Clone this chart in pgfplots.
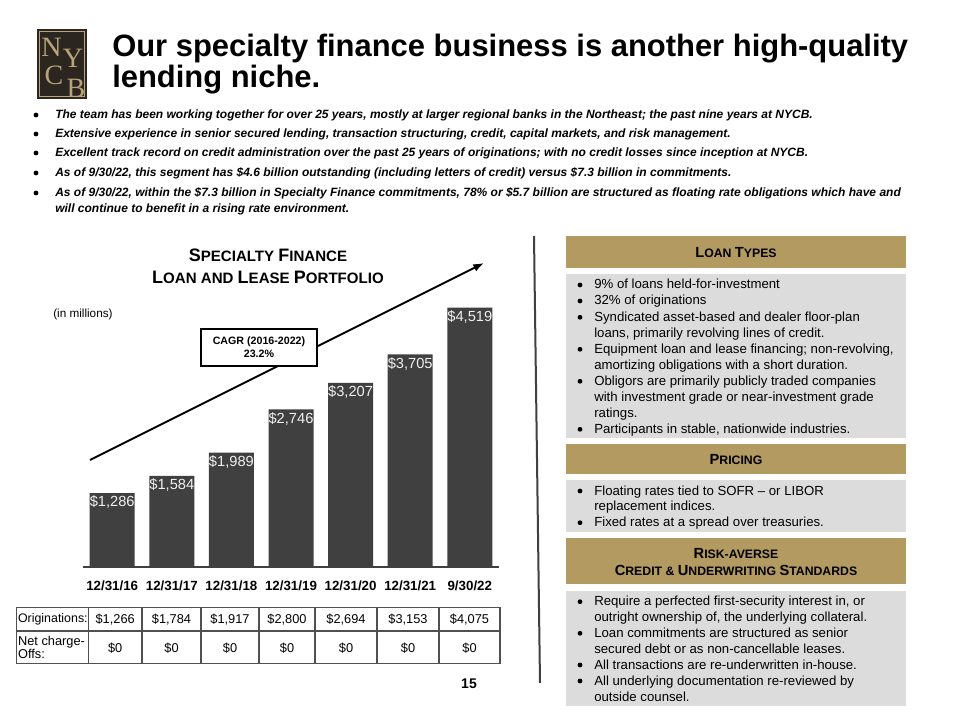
\documentclass[border=0pt]{standalone}
\usepackage{pgfplots}
\pgfplotsset{compat=1.18}
\usepackage{fontspec}
\setmainfont{Liberation Sans}
\newfontfamily\seriffont{Liberation Serif}
\usetikzlibrary{arrows.meta}
\definecolor{gold}{HTML}{B39A61}
\definecolor{logogold}{HTML}{B8A478}
\definecolor{panelgray}{HTML}{DCDCDC}
\definecolor{bardark}{HTML}{404040}
\definecolor{logobrown}{HTML}{2B2620}
\definecolor{tabline}{HTML}{505050}
\newcommand{\fs}[2]{\fontsize{#1}{#2}\selectfont}
\def\BCsize{13.5}
\newcommand{\BC}[1]{{\fontsize{\BCsize}{\BCsize}\selectfont #1}}
\newcommand{\tl}[3]{\node[anchor=base west, inner sep=0] at (#1,#2) {#3};}
\newcommand{\bd}[2]{\fill (#1,#2) circle[radius=1.8pt];}
\begin{document}
\begin{tikzpicture}[x=0.75pt, y=-0.75pt]
\fill[white] (0,0) rectangle (960,720);
% logo
\fill[logobrown] (37,29) rectangle (87,99);
\draw[logogold, line width=0.9pt] (39.5,31.5) rectangle (84.5,96.5);
\begin{scope}[every node/.style={inner sep=0, text=logogold, font=\seriffont\fs{21}{21}}]
\node at (51.5,47) {N};
\node at (73,58) {Y};
\node at (54,75) {C};
\node at (76,88.5) {B};
\end{scope}
% title
\node[anchor=base west, inner sep=0, font=\bfseries\fs{23.2}{24}] at (112,57) {Our specialty finance business is another high-quality};
\node[anchor=base west, inner sep=0, font=\bfseries\fs{23.2}{24}] at (112,88) {lending niche.};
% top bullets
\begin{scope}[font=\bfseries\itshape\fs{9}{10}]
\bd{36}{115}\tl{55}{119}{The team has been working together for over 25 years, mostly at larger regional banks in the Northeast; the past nine years at NYCB.}
\bd{36}{134}\tl{55}{138}{Extensive experience in senior secured lending, transaction structuring, credit, capital markets, and risk management.}
\bd{36}{153}\tl{55}{157}{Excellent track record on credit administration over the past 25 years of originations; with no credit losses since inception at NYCB.}
\bd{36}{173}\tl{55}{177}{As of 9/30/22, this segment has \$4.6 billion outstanding (including letters of credit) versus \$7.3 billion in commitments.}
\bd{36}{193}\tl{55}{197}{As of 9/30/22, within the \$7.3 billion in Specialty Finance commitments, 78\% or \$5.7 billion are structured as floating rate obligations which have and}
\tl{55}{213}{will continue to benefit in a rising rate environment.}
\end{scope}
% chart title
\node[inner sep=0, font=\bfseries\fs{11.3}{13}] at (268,255) {\BC{S}PECIALTY \BC{F}INANCE};
\node[inner sep=0, font=\bfseries\fs{11.3}{13}] at (268,277) {\BC{L}OAN AND \BC{L}EASE \BC{P}ORTFOLIO};
\node[anchor=west, inner sep=0, font=\fs{8.8}{10}] at (53,314) {(in millions)};
% arrow
\draw[line width=1.5pt, -{Latex[length=8pt,width=6pt]}] (90,460) -- (484,263);
\node[draw, line width=1.2pt, fill=white, minimum width=87pt, minimum height=27.75pt, align=center, inner sep=0, font=\bfseries\fs{8}{10}] at (259,347.5) {CAGR (2016-2022)\\23.2\%};
% bars
\begin{axis}[at={(62.25pt,-425.025pt)}, anchor=south west, scale only axis,
  width=312pt, height=214.9pt, xmin=-0.49, xmax=6.49, ymin=0, ymax=5000,
  axis y line=none, axis x line=bottom,
  x axis line style={draw=bardark, line width=1.5pt, -},
  xtick={0,...,6}, xticklabels={12/31/16,12/31/17,12/31/18,12/31/19,12/31/20,12/31/21,9/30/22},
  major tick length=0pt,
  xticklabel style={font=\bfseries\fs{10}{12}, yshift=-7pt},
  ybar, bar width=33.75pt, clip=false,
  nodes near coords={\$\pgfmathprintnumber[fixed,precision=0,1000 sep={,},assume math mode=true]{\pgfplotspointmeta}},
  every node near coord/.append style={anchor=center, yshift=-7pt, text=white!94!black, font=\fs{11}{12}, inner sep=0},
]
\addplot[fill=bardark, draw=none] coordinates {(0,1286) (1,1584) (2,1989) (3,2746) (4,3207) (5,3705) (6,4519)};
\end{axis}
% table
\begin{scope}[draw=tabline, line width=0.9pt]
\draw (16.7,607.7) rectangle (500,663.7);
\draw (16.7,631) -- (500,631);
\foreach \x in {88.5,142,201,259,315,377,439} \draw (\x,607.7) -- (\x,663.7);
\end{scope}
\begin{scope}[every node/.style={inner sep=0, font=\fs{9.6}{11}}]
\node[anchor=west, font=\fs{9.3}{11}] at (17.8,619.5) {Originations:};
\node[anchor=west, align=left, font=\fs{9.6}{9.75}] at (17.8,647.5) {Net charge-\\Offs:};
\foreach \x/\v in {115.2/1{,}266,171.5/1{,}784,230/1{,}917,287/2{,}800,346/2{,}694,408/3{,}153,469.5/4{,}075} {
  \node at (\x,619.5) {\$\v};
  \node at (\x,648) {\$0};
}
\end{scope}
\node[inner sep=0, font=\bfseries\fs{10.5}{12}] at (469,684) {15};
% divider
\draw[bardark, line width=1.5pt] (534,236) -- (540,683);
% right panels
\fill[gold] (566,235.7) rectangle (906,268);
\fill[panelgray] (566,274) rectangle (906,438);
\fill[gold] (566,444) rectangle (906,474);
\fill[panelgray] (566,480) rectangle (906,532);
\fill[gold] (566,538) rectangle (906,584);
\fill[panelgray] (566,591) rectangle (906,706);
\def\BCsize{11}
\node[inner sep=0, font=\bfseries\fs{9.2}{11}] at (736,252.5) {\BC{L}OAN \BC{T}YPES};
\node[inner sep=0, font=\bfseries\fs{9.2}{11}] at (736,459.5) {\BC{P}RICING};
\node[inner sep=0, font=\bfseries\fs{9.2}{11}] at (736,553.5) {\BC{R}ISK-AVERSE};
\node[inner sep=0, font=\bfseries\fs{9.2}{11}] at (736,570) {\BC{C}REDIT \& \BC{U}NDERWRITING \BC{S}TANDARDS};
\begin{scope}[font=\fs{9.9}{12}]
\bd{580}{285}\tl{594}{288.7}{9\% of loans held-for-investment}
\bd{580}{301}\tl{594}{305}{32\% of originations}
\bd{580}{317.3}\tl{594}{321.3}{Syndicated asset-based and dealer floor-plan}
\tl{594}{337.3}{loans, primarily revolving lines of credit.}
\bd{580}{349.3}\tl{594}{353.3}{Equipment loan and lease financing; non-revolving,}
\tl{594}{369.3}{amortizing obligations with a short duration.}
\bd{580}{381.3}\tl{594}{385.3}{Obligors are primarily publicly traded companies}
\tl{594}{401.3}{with investment grade or near-investment grade}
\tl{594}{417.3}{ratings.}
\bd{580}{429.3}\tl{594}{433.3}{Participants in stable, nationwide industries.}
\bd{580}{491}\tl{594}{495}{Floating rates tied to SOFR – or LIBOR}
\tl{594}{510.7}{replacement indices.}
\bd{580}{522.7}\tl{594}{526.7}{Fixed rates at a spread over treasuries.}
\bd{580}{601.7}\tl{594}{605.7}{Require a perfected first-security interest in, or}
\tl{594}{621.7}{outright ownership of, the underlying collateral.}
\bd{580}{633.3}\tl{594}{637.3}{Loan commitments are structured as senior}
\tl{594}{653.3}{secured debt or as non-cancellable leases.}
\bd{580}{665}\tl{594}{669}{All transactions are re-underwritten in-house.}
\bd{580}{681}\tl{594}{685}{All underlying documentation re-reviewed by}
\tl{594}{701}{outside counsel.}
\end{scope}
\end{tikzpicture}
\end{document}
